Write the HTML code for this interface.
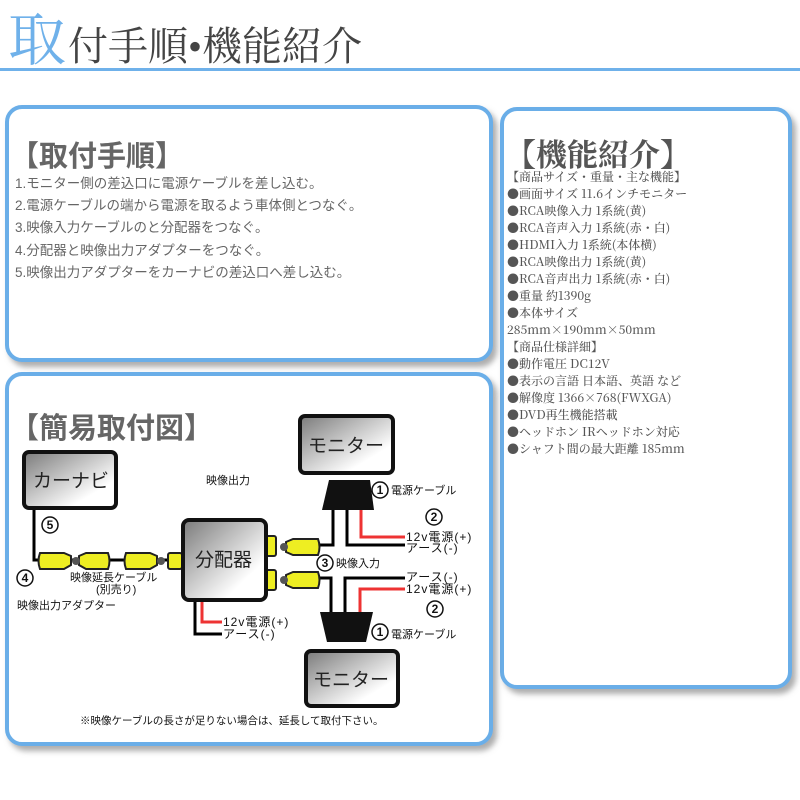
<!DOCTYPE html>
<html><head><meta charset="utf-8"><style>
body{margin:0;width:800px;height:800px;background:#fff;overflow:hidden}
svg{display:block}
.s{font-family:"Liberation Sans","Noto Sans CJK JP",sans-serif}
.r{font-family:"Liberation Serif","Noto Serif CJK SC",serif}
.c{font-family:"Noto Serif CJK SC","Liberation Serif",serif}
</style></head><body>
<svg width="800" height="800" xmlns="http://www.w3.org/2000/svg">
<defs>
<linearGradient id="g" x1="0" y1="0" x2="1" y2="1"><stop offset="0" stop-color="#7a7a7a"/><stop offset="0.75" stop-color="#fff"/><stop offset="1" stop-color="#fff"/></linearGradient>
<filter id="sh" x="-5%" y="-5%" width="115%" height="115%"><feDropShadow dx="4" dy="5" stdDeviation="3" flood-color="#777" flood-opacity="0.6"/></filter>
</defs>
<!-- header -->
<text x="8" y="60" class="r" font-size="58" fill="#6fb1ea">取</text>
<text x="68" y="60" class="r" font-size="40" fill="#444">付手順•機能紹介</text>
<rect x="0" y="68" width="800" height="3" fill="#6fb1ea"/>
<!-- boxes -->
<rect x="7" y="107" width="484" height="253" rx="15" fill="#fff" stroke="#6aaee8" stroke-width="4" filter="url(#sh)"/>
<rect x="502" y="109" width="288" height="578" rx="15" fill="#fff" stroke="#6aaee8" stroke-width="4" filter="url(#sh)"/>
<rect x="7" y="374" width="484" height="370" rx="15" fill="#fff" stroke="#6aaee8" stroke-width="4" filter="url(#sh)"/>
<!-- box1 -->
<g class="s" fill="#666">
<text x="10" y="166" font-size="29" font-weight="bold">【取付手順】</text>
<g font-size="13.5"><text x="15" y="188">1.モニター側の差込口に電源ケーブルを差し込む。</text>
<text x="15" y="210">2.電源ケーブルの端から電源を取るよう車体側とつなぐ。</text>
<text x="15" y="232">3.映像入力ケーブルのと分配器をつなぐ。</text>
<text x="15" y="255">4.分配器と映像出力アダプターをつなぐ。</text>
<text x="15" y="277">5.映像出力アダプターをカーナビの差込口へ差し込む。</text></g>
</g>
<!-- box2 -->
<g class="c" fill="#555">
<text x="505" y="166" font-size="31" font-weight="bold">【機能紹介】</text>
<g font-size="12" font-weight="500">
<text x="507" y="181">【商品サイズ・重量・主な機能】</text>
<text x="507" y="198">●画面サイズ 11.6インチモニター</text>
<text x="507" y="215">●RCA映像入力 1系統(黄)</text>
<text x="507" y="232">●RCA音声入力 1系統(赤・白)</text>
<text x="507" y="249">●HDMI入力 1系統(本体横)</text>
<text x="507" y="266">●RCA映像出力 1系統(黄)</text>
<text x="507" y="283">●RCA音声出力 1系統(赤・白)</text>
<text x="507" y="300">●重量 約1390g</text>
<text x="507" y="317">●本体サイズ</text>
<text x="507" y="334">285mm×190mm×50mm</text>
<text x="507" y="351">【商品仕様詳細】</text>
<text x="507" y="368">●動作電圧 DC12V</text>
<text x="507" y="385">●表示の言語 日本語、英語 など</text>
<text x="507" y="402">●解像度 1366×768(FWXGA)</text>
<text x="507" y="419">●DVD再生機能搭載</text>
<text x="507" y="436">●ヘッドホン IRヘッドホン対応</text>
<text x="507" y="453">●シャフト間の最大距離 185mm</text>
</g></g>
<!-- box3 -->
<text x="10" y="438" class="s" font-size="29" font-weight="bold" fill="#666">【簡易取付図】</text>
<g stroke="#000" stroke-width="3" fill="none">
<path d="M34 508V560H42"/>
<path d="M333 510V545H320"/><path d="M347 510V545H405"/>
<path d="M331 612V578H320"/><path d="M345 612V578H405"/>
<path d="M195 600V634H222"/>
</g>
<g stroke="#e33" stroke-width="3" fill="none">
<path d="M361 510V537H405"/><path d="M360 612V589H405"/><path d="M202 600V622H222"/>
</g>
<!-- chain -->
<path d="M60 560H180" stroke="#000" stroke-width="3"/>
<g fill="#ee2" stroke="#222" stroke-width="2">
<path d="M40 553Q37 561 40 569H64L71 565V556L64 553Z"/>
<path d="M86 553L79 556V565L86 569H108Q111 561 108 553Z"/>
<path d="M126 553Q123 561 126 569H150L157 565V556L150 553Z"/>
<rect x="168" y="553" width="14" height="16" rx="2"/>
<rect x="264" y="536" width="12" height="20" rx="2"/>
<rect x="264" y="570" width="12" height="20" rx="2"/>
<path d="M293 539L286 542V552L293 555H318Q321 547 318 539Z"/>
<path d="M293 572L286 575V585L293 588H318Q321 580 318 572Z"/>
</g>
<g fill="#555"><circle cx="76" cy="561" r="4"/><circle cx="161" cy="561" r="4"/><circle cx="284" cy="547" r="4"/><circle cx="284" cy="580" r="4"/></g>
<!-- boxes -->
<g stroke="#111" stroke-width="4" fill="url(#g)">
<rect x="24" y="452" width="92" height="56" rx="5"/>
<rect x="300" y="416" width="93" height="57" rx="5"/>
<rect x="306" y="651" width="92" height="55" rx="5"/>
<rect x="183" y="520" width="83" height="80" rx="6"/>
</g>
<path d="M329 480H370L374 510H322Z" fill="#111"/>
<path d="M320 612H373L366 642H327Z" fill="#111"/>
<g class="s" fill="#222" font-size="19">
<text x="33" y="487">カーナビ</text><text x="308" y="452">モニター</text><text x="313" y="686">モニター</text><text x="195" y="566">分配器</text>
</g>
<g class="s" fill="#111" font-size="11">
<text x="206" y="484">映像出力</text>
<text x="391" y="494">電源ケーブル</text><text x="391" y="638">電源ケーブル</text>
<text x="406" y="541" font-size="12" letter-spacing="1">12v電源(+)</text><text x="406" y="552" font-size="12" letter-spacing="1">アース(-)</text>
<text x="406" y="581" font-size="12" letter-spacing="1">アース(-)</text><text x="406" y="593" font-size="12" letter-spacing="1">12v電源(+)</text>
<text x="223" y="626" font-size="12" letter-spacing="1">12v電源(+)</text><text x="223" y="638" font-size="12" letter-spacing="1">アース(-)</text>
<text x="336" y="567">映像入力</text>
<text x="70" y="581">映像延長ケーブル</text><text x="96" y="593">(別売り)</text>
<text x="17" y="609">映像出力アダプター</text>
<text x="80" y="724" font-size="10.5">※映像ケーブルの長さが足りない場合は、延長して取付下さい。</text>
</g>
<g fill="#fff" stroke="#111" stroke-width="1.5">
<circle cx="380" cy="490" r="8"/><circle cx="434" cy="517" r="8"/><circle cx="325" cy="563" r="8"/>
<circle cx="435" cy="609" r="8"/><circle cx="380" cy="632" r="8"/><circle cx="50" cy="525" r="8"/><circle cx="25" cy="578" r="8"/>
</g>
<g class="s" font-size="12" font-weight="bold" fill="#111" text-anchor="middle">
<text x="380" y="494">1</text><text x="434" y="521">2</text><text x="325" y="567">3</text>
<text x="435" y="613">2</text><text x="380" y="636">1</text><text x="50" y="529">5</text><text x="25" y="582">4</text>
</g>
</svg>
</body></html>
